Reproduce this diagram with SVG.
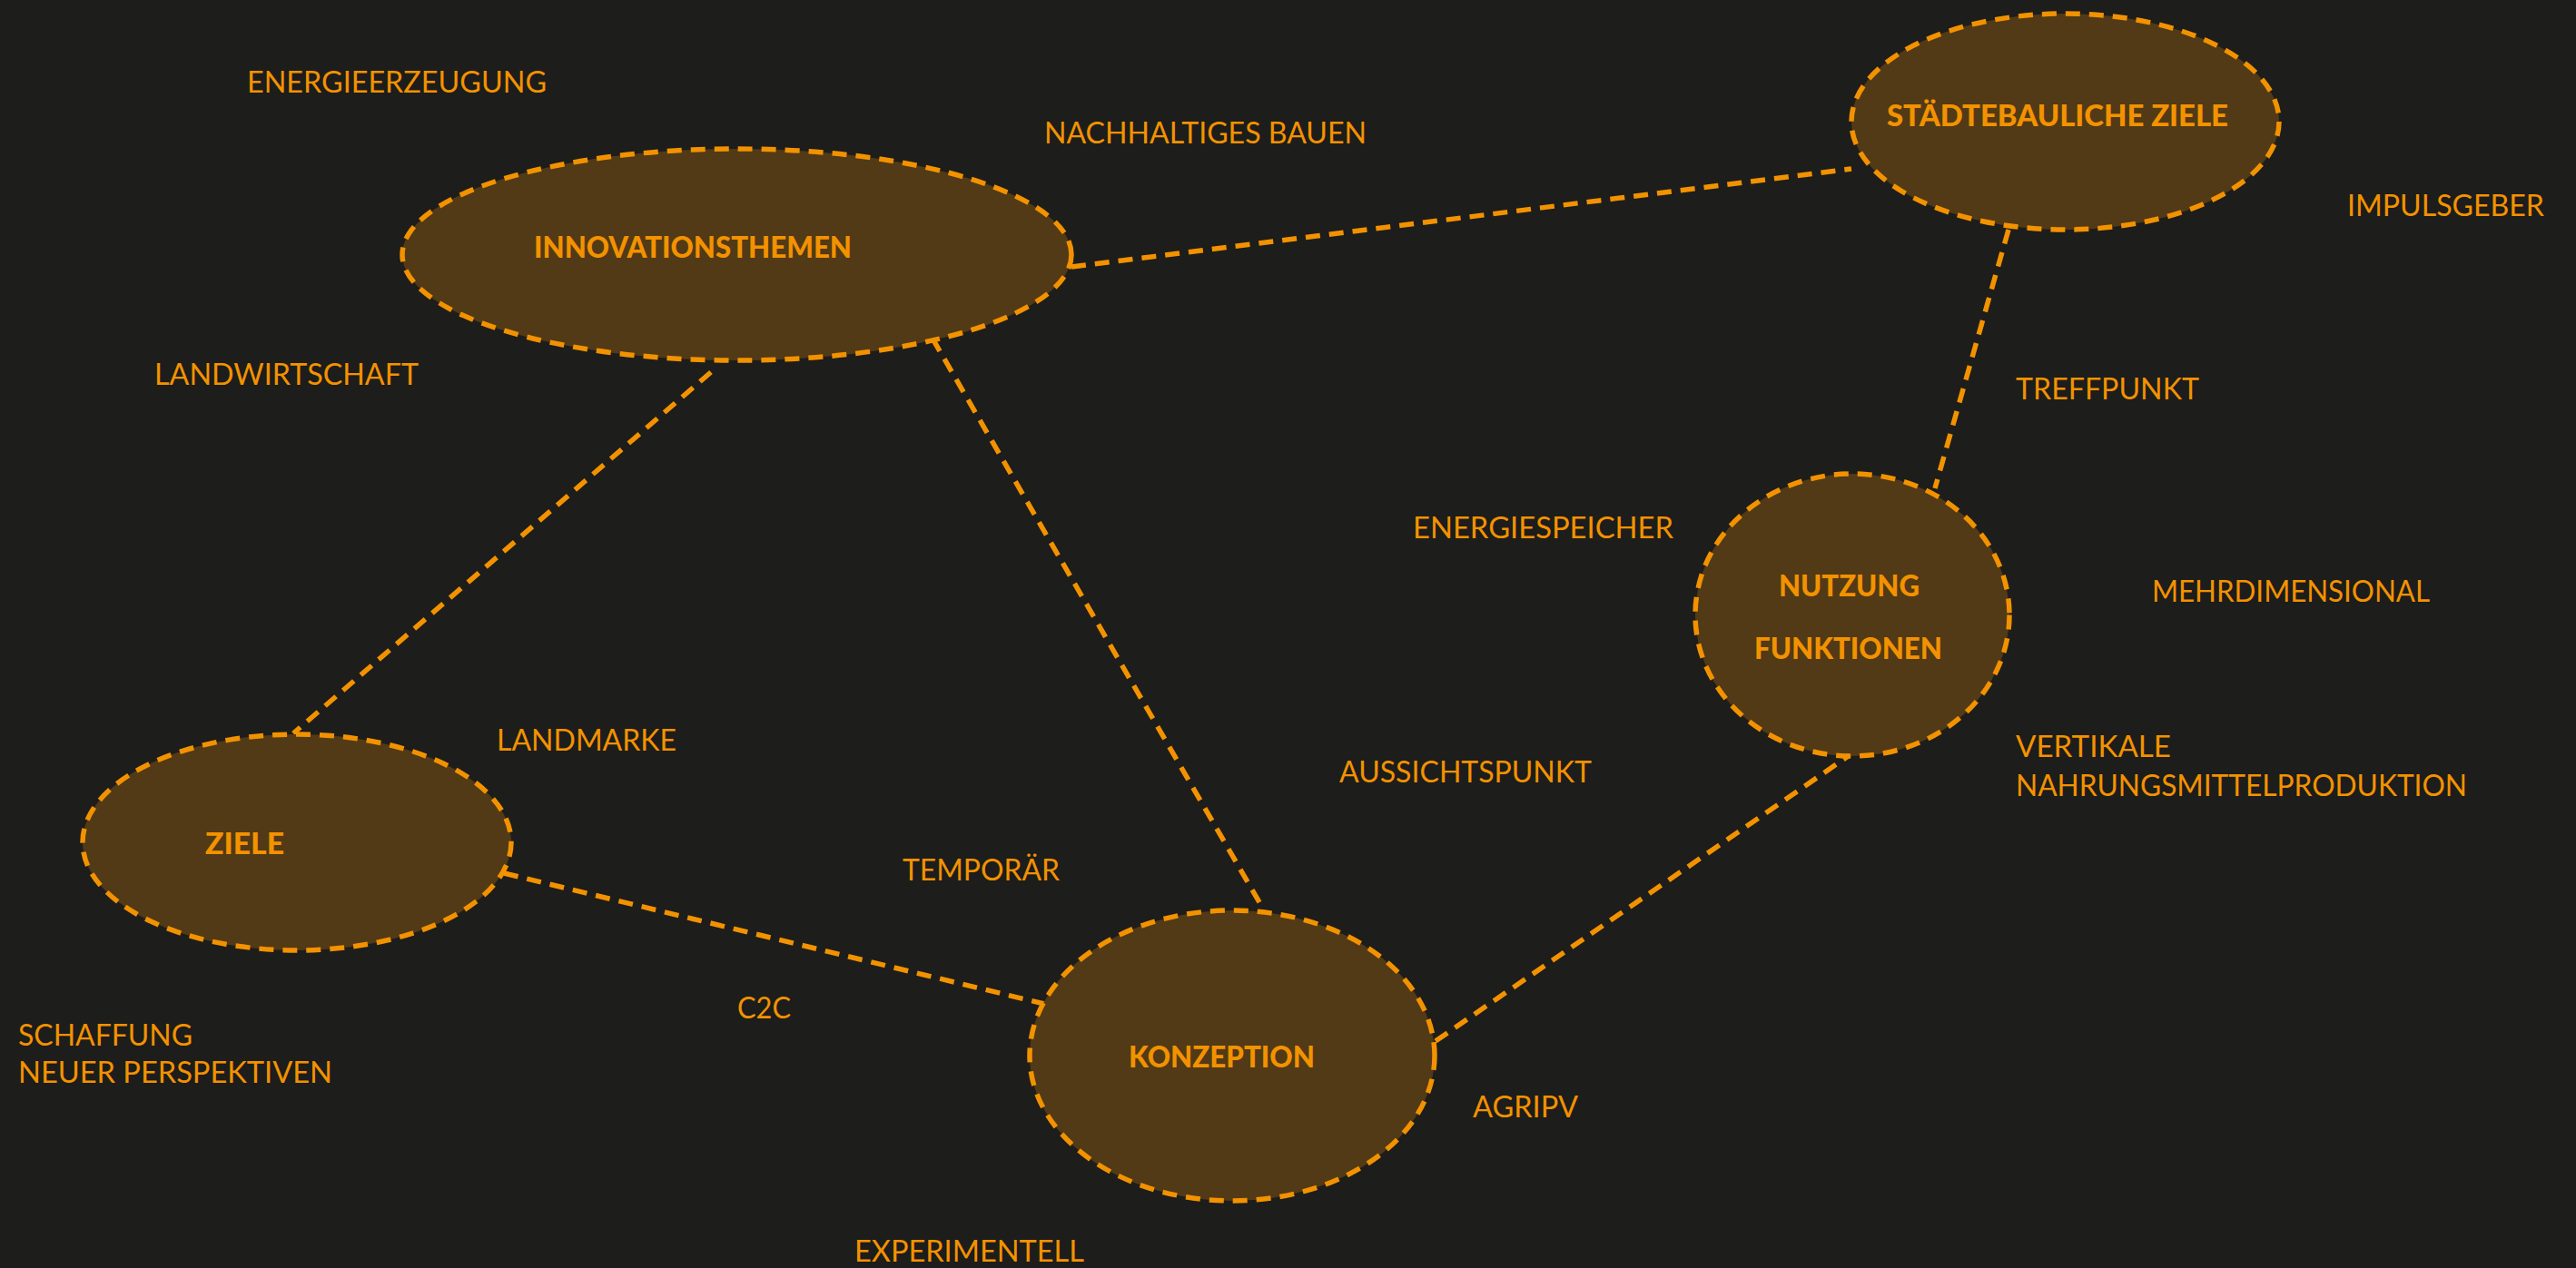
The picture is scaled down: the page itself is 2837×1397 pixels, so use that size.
<svg xmlns="http://www.w3.org/2000/svg" width="2837" height="1397" viewBox="0 0 2837 1397">
<style>
.bg{fill:#1d1d1b}
.node{fill:#523a16;stroke:#f39200;stroke-width:5.5;stroke-dasharray:16 10}
.edge{stroke:#f39200;stroke-width:5.5;stroke-dasharray:16 10;fill:none}
.title{font-family:Lato,"Liberation Sans",sans-serif;font-weight:900;font-size:33px;fill:#f39200}
.lbl{font-family:Lato,"Liberation Sans",sans-serif;font-weight:400;font-size:33px;fill:#f39200}
</style>
<rect class="bg" x="0" y="0" width="2837" height="1397"/>
<g id="connectors">
<line class="edge" x1="1180" y1="294" x2="2039" y2="186"/>
<line class="edge" x1="783" y1="410" x2="323" y2="808"/>
<line class="edge" x1="1027" y1="373" x2="1391" y2="1001"/>
<line class="edge" x1="555" y1="962" x2="1150" y2="1106"/>
<line class="edge" x1="1581" y1="1147" x2="2037" y2="832"/>
<line class="edge" x1="2212" y1="253" x2="2131" y2="538"/>
</g>
<g id="innovationsthemen">
<ellipse class="node" cx="811.5" cy="280.5" rx="368.5" ry="116.5"/>
<text class="title" x="588" y="284" textLength="350" lengthAdjust="spacingAndGlyphs">INNOVATIONSTHEMEN</text>
</g>
<g id="staedtebauliche-ziele">
<ellipse class="node" cx="2274.5" cy="134" rx="235.5" ry="119"/>
<text class="title" x="2078" y="139" textLength="376" lengthAdjust="spacingAndGlyphs">STÄDTEBAULICHE ZIELE</text>
</g>
<g id="ziele">
<ellipse class="node" cx="327" cy="928" rx="236" ry="119"/>
<text class="title" x="226" y="941" textLength="87" lengthAdjust="spacingAndGlyphs">ZIELE</text>
</g>
<g id="konzeption">
<ellipse class="node" cx="1357" cy="1163" rx="223" ry="160"/>
<text class="title" x="1243" y="1176" textLength="205" lengthAdjust="spacingAndGlyphs">KONZEPTION</text>
</g>
<g id="nutzung-funktionen">
<ellipse class="node" cx="2040" cy="677.5" rx="173" ry="155.5"/>
<text class="title" x="1959" y="657" textLength="155" lengthAdjust="spacingAndGlyphs">NUTZUNG</text>
<text class="title" x="1932" y="726" textLength="207" lengthAdjust="spacingAndGlyphs">FUNKTIONEN</text>
</g>
<g id="labels">
<text class="lbl" x="272" y="102" textLength="330" lengthAdjust="spacingAndGlyphs">ENERGIEERZEUGUNG</text>
<text class="lbl" x="1150" y="158" textLength="355" lengthAdjust="spacingAndGlyphs">NACHHALTIGES BAUEN</text>
<text class="lbl" x="2585" y="238" textLength="217" lengthAdjust="spacingAndGlyphs">IMPULSGEBER</text>
<text class="lbl" x="170" y="424" textLength="291" lengthAdjust="spacingAndGlyphs">LANDWIRTSCHAFT</text>
<text class="lbl" x="2220" y="440" textLength="202" lengthAdjust="spacingAndGlyphs">TREFFPUNKT</text>
<text class="lbl" x="1556" y="593" textLength="287" lengthAdjust="spacingAndGlyphs">ENERGIESPEICHER</text>
<text class="lbl" x="2370" y="663" textLength="306" lengthAdjust="spacingAndGlyphs">MEHRDIMENSIONAL</text>
<text class="lbl" x="547" y="827" textLength="198" lengthAdjust="spacingAndGlyphs">LANDMARKE</text>
<text class="lbl" x="1475" y="862" textLength="278" lengthAdjust="spacingAndGlyphs">AUSSICHTSPUNKT</text>
<text class="lbl" x="2220" y="834" textLength="171" lengthAdjust="spacingAndGlyphs">VERTIKALE</text>
<text class="lbl" x="2220" y="877" textLength="497" lengthAdjust="spacingAndGlyphs">NAHRUNGSMITTELPRODUKTION</text>
<text class="lbl" x="994" y="970" textLength="173" lengthAdjust="spacingAndGlyphs">TEMPORÄR</text>
<text class="lbl" x="812" y="1122" textLength="59" lengthAdjust="spacingAndGlyphs">C2C</text>
<text class="lbl" x="20" y="1152" textLength="192" lengthAdjust="spacingAndGlyphs">SCHAFFUNG</text>
<text class="lbl" x="20" y="1193" textLength="346" lengthAdjust="spacingAndGlyphs">NEUER PERSPEKTIVEN</text>
<text class="lbl" x="1622" y="1231" textLength="116" lengthAdjust="spacingAndGlyphs">AGRIPV</text>
<text class="lbl" x="941" y="1390" textLength="253" lengthAdjust="spacingAndGlyphs">EXPERIMENTELL</text>
</g>
</svg>
